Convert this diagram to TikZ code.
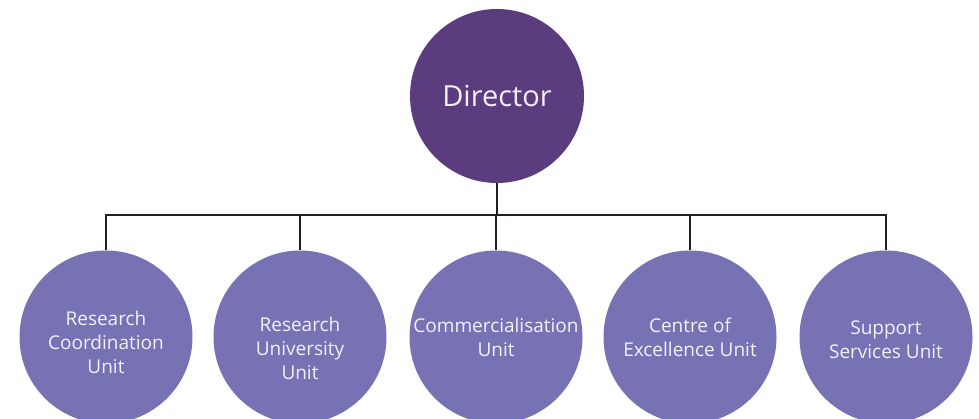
\documentclass[tikz,border=0pt]{standalone}
\usepackage{fontspec}
\setmainfont{Open Sans}
\usepackage{tikz}

\definecolor{headpurple}{RGB}{91,60,126}
\definecolor{unitpurple}{RGB}{118,114,179}
\definecolor{linkgrey}{RGB}{35,31,32}
\definecolor{labelwhite}{RGB}{244,240,250}

\begin{document}
\begin{tikzpicture}[x=1pt,y=1pt,yscale=-1,xscale=1,
  head/.style={circle,fill=headpurple,minimum size=174pt,inner sep=0pt,text=labelwhite,font=\fontsize{29}{34}\selectfont},
  unit/.style={circle,fill=unitpurple,minimum size=173pt,inner sep=0pt},
  unittext/.style={text=labelwhite,align=center,inner sep=0pt,font=\fontsize{19}{24}\selectfont},
  link/.style={draw=linkgrey,line width=2.2pt}]
%set diagram size to the reference
\useasboundingbox (0,0) rectangle (979,419);
%Head circle
\node (dir) [head] at (497,96) {Director};
%Unit circles
\node (rcu) [unit] at (106,337) {};
\node (ruu) [unit] at (300,337) {};
\node (cmu) [unit] at (496,337) {};
\node (ceu) [unit] at (690,337) {};
\node (ssu) [unit] at (886,337) {};
% Text Node
\node (rcutext) [unittext] at (106,342) {Research\\Coordination\\Unit};
\node (ruutext) [unittext] at (300,348) {Research\\University\\Unit};
\node (cmutext) [unittext] at (496,337) {Commercialisation\\Unit};
\node (ceutext) [unittext] at (690,337) {Centre of\\Excellence Unit};
\node (ssutext) [unittext] at (886,340) {Support\\Services Unit};
%Connectors
\coordinate (hub) at (497,215);
\draw [link] (dir.south) -- (hub);
\draw [link] (rcu.north) |- (hub) -| (ssu.north);
\draw [link] (ruu.north) -- (ruu.north |- hub);
\draw [link] (cmu.north) -- (cmu.north |- hub);
\draw [link] (ceu.north) -- (ceu.north |- hub);
\end{tikzpicture}
\end{document}
